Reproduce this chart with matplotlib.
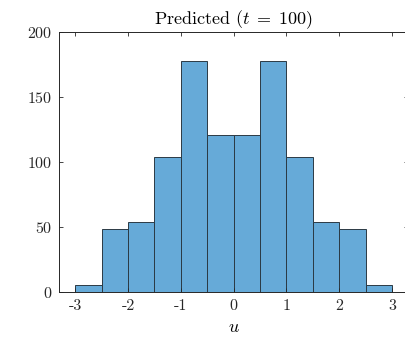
import numpy as np
import matplotlib
matplotlib.use('Agg')
import matplotlib.pyplot as plt

# histogram data
bin_edges = [-3.0, -2.5, -2.0, -1.5, -1.0, -0.5, 0.0, 0.5, 1.0, 1.5, 2.0, 2.5, 3.0]
counts = [6, 49, 54, 104, 178, 121, 121, 178, 104, 54, 49, 6]
xticks = [-3, -2, -1, 0, 1, 2, 3]
xtick_labels = ['-3', '-2', '-1', '0', '1', '2', '3']
yticks = [0, 50, 100, 150, 200]

plt.rcParams['font.family'] = 'serif'
plt.rcParams['font.serif'] = ['cmr10', 'DejaVu Serif']
plt.rcParams['mathtext.fontset'] = 'cm'
plt.rcParams['axes.unicode_minus'] = False
plt.rcParams['axes.formatter.use_mathtext'] = True

fig = plt.figure(figsize=(4.06, 3.39), dpi=100)
ax = fig.add_axes([59.3 / 406, (339 - 292.3) / 339, (408 - 59.3) / 406, 260 / 339])

widths = np.diff(bin_edges)
ax.bar(bin_edges[:-1], counts, width=widths, align='edge',
       color='#66aad8', edgecolor='#2b3a44', linewidth=0.7)

ax.set_xlim(-3.3, 3.3)
ax.set_ylim(0, 200)
ax.set_xticks(xticks)
ax.set_xticklabels(xtick_labels)
ax.set_yticks(yticks)
ax.tick_params(direction='in', length=3, width=0.6, labelsize=11.5,
               top=True, right=True, colors='#262626', pad=5)
for s in ax.spines.values():
    s.set_linewidth(0.7)
    s.set_color('#262626')

ax.set_title(r'Predicted ($t\;=\;100$)', fontsize=13, pad=6)
ax.set_xlabel(r'$u$', fontsize=13, labelpad=5)

fig.savefig('out.png', dpi=100)
